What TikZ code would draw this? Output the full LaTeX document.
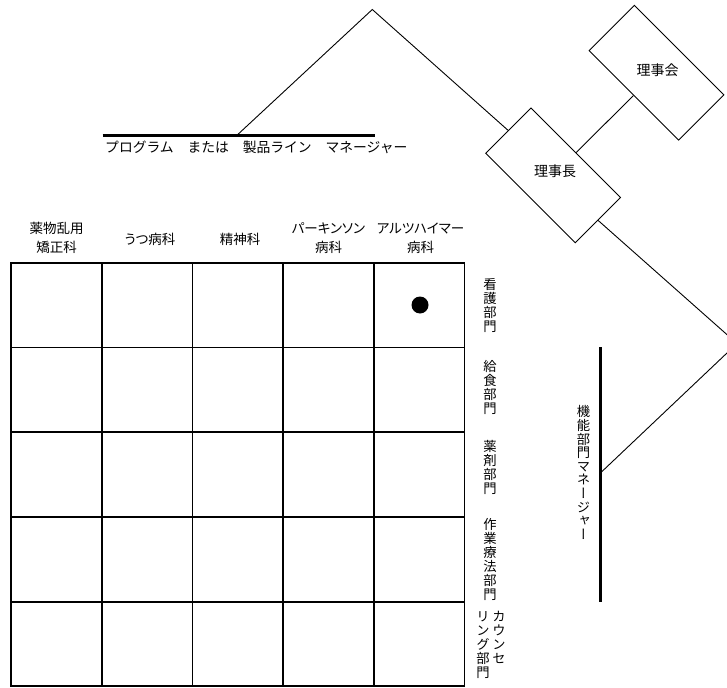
\documentclass[tikz,border=0pt]{standalone}
\usepackage{fontspec}
\newfontfamily\jp{Noto Sans CJK JP}[RawFeature=+palt]
\newfontfamily\jpn{Noto Sans CJK JP}
\newfontfamily\jpv{Noto Sans CJK JP}[RawFeature=+vert]
\begin{document}
\begin{tikzpicture}[x=1pt,y=-1pt,
  lbl/.style={font=\jp\fontsize{13.5}{19}\selectfont, inner sep=0pt, align=center},
  vlbl/.style={font=\jpv\fontsize{13.3}{14}\selectfont, inner sep=0pt, align=center},
  gridline/.style={line width=1.7pt},
  thinline/.style={line width=0.9pt},
  thickline/.style={line width=2.5pt},
  box/.style={draw, line width=0.9pt, rectangle, minimum width=126.5pt, minimum height=64pt, rotate=-45, inner sep=0pt},
]
\useasboundingbox (0,0) rectangle (727,687);
\clip (0,0) rectangle (727,687);

% grid
\foreach \x in {11.3,101.9,192.5,283.2,373.9,464.6}
  \draw[gridline] (\x,262.7) -- (\x,686);
\foreach \y in {262.7,347.5,432.2,517,601.7,686}
  \draw[gridline] (10.45,\y) -- (465.45,\y);
\node[circle, fill, minimum size=17pt, inner sep=0pt] (dot) at (420,305) {};

% column headers
\node[lbl] (h1) at (56.5,238) {薬物乱用\\矯正科};
\node[lbl] (h2) at (150,239) {うつ病科};
\node[lbl] (h3) at (240,239) {精神科};
\node[lbl] (h4) at (328.5,238) {パーキンソン\\病科};
\node[lbl] (h5) at (420.5,238) {アルツハイマー\\病科};

% row labels
\node[vlbl] (r1) at (490,305) {看\\護\\部\\門};
\node[vlbl] (r2) at (490,387.5) {給\\食\\部\\門};
\node[vlbl] (r3) at (490,467.5) {薬\\剤\\部\\門};
\node[vlbl] (r4) at (490,559) {作\\業\\療\\法\\部\\門};
\node[vlbl, anchor=north] (r5a) at (499,611) {カ\\ウ\\ン\\セ};
\node[vlbl, anchor=north] (r5b) at (483,611) {リ\\ン\\グ\\部\\門};

% functional manager
\coordinate (fmTop) at (600.7,347.3);
\coordinate (fmBot) at (600.7,601.7);
\coordinate (fmJ) at (600.7,472.7);
\draw[thickline] (fmTop) -- (fmBot);
\node[vlbl, font=\jpv\fontsize{13.3}{13.6}\selectfont] (fmT) at (583.5,472.5) {機\\能\\部\\門\\マ\\ネ\\ー\\ジ\\ャ\\ー};

% program manager
\coordinate (pmL) at (102.7,135.5);
\coordinate (pmR) at (375,135.5);
\coordinate (pmJ) at (236.7,135.5);
\draw[thickline] (pmL) -- (pmR);
\node[lbl, font=\jpn\fontsize{13.8}{16}\selectfont, anchor=west] (pmT) at (105,147) {プログラム　または　製品ライン　マネージャー};

% board diamonds
\node[box] (rijicho) at (553.1,175.4) {};
\node[box] (rijikai) at (656.5,72.7) {};
\node[lbl, font=\jpn\fontsize{14}{16}\selectfont] (rijichoT) at (555,171) {理事長};
\node[lbl, font=\jpn\fontsize{14}{16}\selectfont] (rijikaiT) at (657.7,70.7) {理事会};

% connectors
\coordinate (peak) at (372.3,9.5);
\coordinate (apex) at (737,343.5);
\draw[thinline] (pmJ) -- (peak) -- (rijicho.west);
\draw[thinline] (rijicho.east) -- (apex) -- (fmJ);
\draw[thinline] (rijicho) -- (rijikai);
\end{tikzpicture}
\end{document}
